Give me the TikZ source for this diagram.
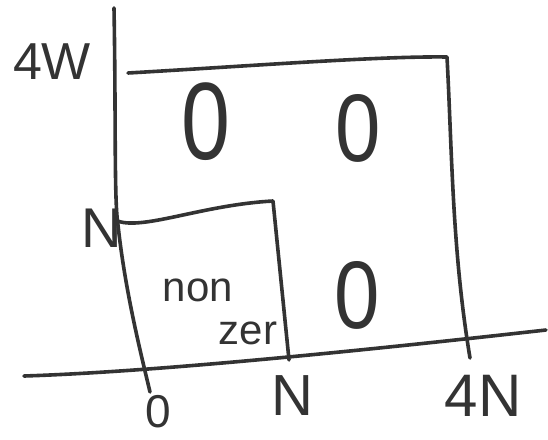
\documentclass[tikz,border=0pt]{standalone}
\usepackage{fontspec}
\setmainfont{Liberation Sans}
\begin{document}
\begin{tikzpicture}[x=1pt,y=-1pt,
  pen/.style={draw=black!80,line width=3.6pt,line cap=round,line join=round},
  lbl/.style={text=black!80,inner sep=0pt,font=\fontsize{#1}{#1}\selectfont},
  lbl/.default=60]
\useasboundingbox (0,0) rectangle (548,439);
% axes
\coordinate (ytop) at (114,8);
\coordinate (ybot) at (150,392);
\coordinate (xl) at (24,376);
\coordinate (xr) at (546,330);
\draw[pen] (ytop) .. controls (116,120) and (114,200) .. (118,225) .. controls (125,290) and (140,350) .. (ybot);
\draw[pen] (xl) .. controls (150,372) and (350,352) .. (xr);
% big rectangle
\coordinate (bl) at (128,73);
\coordinate (btr) at (447,57);
\coordinate (bbr) at (470,358);
\draw[pen] (bl) .. controls (250,66) and (380,56) .. (btr) .. controls (452,150) and (452,250) .. (bbr);
% small rectangle
\coordinate (sl) at (115,220);
\coordinate (str) at (273,201);
\coordinate (sbr) at (289,360);
\draw[pen] (sl) .. controls (140,232) and (200,205) .. (str) -- (sbr);
% labels
\node[lbl=52] (l4w) at (52,62) {4W};
\node[lbl=56] (lN) at (102,228) {N};
\node[lbl=46] (l0) at (158,412) {0};
\node[lbl=58] (bN) at (292,396) {N};
\node[lbl=60] (l4N) at (483,396) {4N};
\node[lbl=110,xscale=0.8] (z1) at (206,122) {0};
\node[lbl=96,xscale=0.85] (z2) at (358,128) {0};
\node[lbl=96,xscale=0.85] (z3) at (357,295) {0};
\node[lbl=42] (non) at (198,290) {non};
\node[lbl=42] (zer) at (248,333) {zer};
\end{tikzpicture}
\end{document}
